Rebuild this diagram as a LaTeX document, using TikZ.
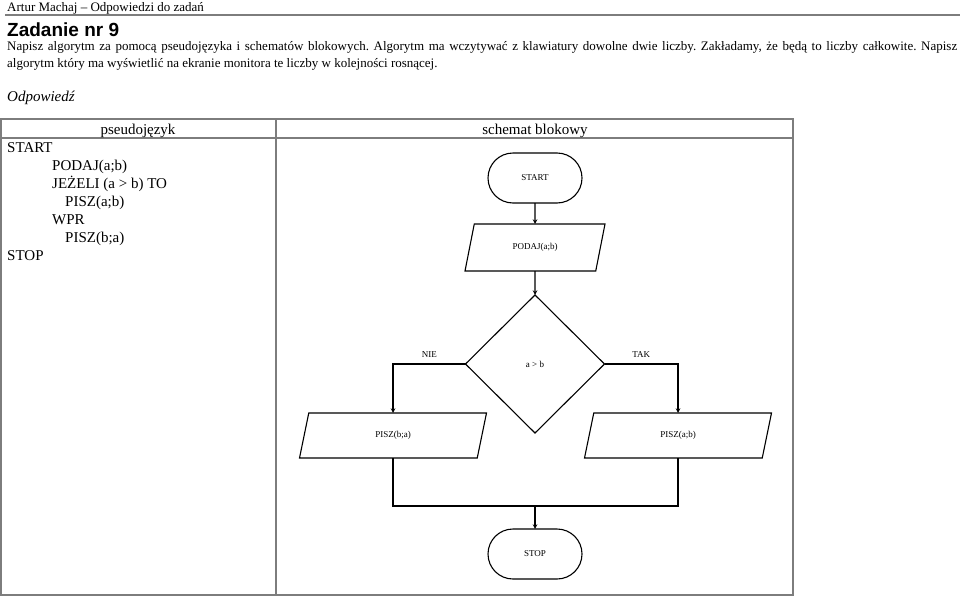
\documentclass[tikz,border=0pt]{standalone}
\usepackage{fontspec}
\setmainfont{Liberation Serif}
\newfontfamily\headSans{Liberation Sans}
\usepackage{tikz}
\usetikzlibrary{
    positioning,
    arrows.meta,
    shapes.geometric
}
\definecolor{tableGray}{RGB}{125,125,125}
\frenchspacing

\begin{document}
\begin{tikzpicture}[x=1pt, y=-1pt, >=stealth,
    txt/.style={anchor=base west, inner sep=0pt},
    terminal/.style={draw, rectangle, rounded corners=25pt, minimum width=94pt,
        minimum height=50pt, line width=1.1pt, outer sep=0pt, font=\fontsize{9}{11}\selectfont},
    iobox/.style={draw, trapezium, trapezium left angle=58, trapezium right angle=122,
        trapezium stretches body, line width=1.1pt, outer sep=0pt, font=\fontsize{9}{11}\selectfont},
    decision/.style={draw, diamond, aspect=1, minimum width=139pt, minimum height=138pt,
        inner sep=0pt, line width=1.1pt, outer sep=0pt, font=\fontsize{9}{11}\selectfont},
    flow/.style={line width=1.1pt},
    branch/.style={inner sep=1pt, font=\fontsize{9}{11}\selectfont}]
    \useasboundingbox (0,0) rectangle (960,597);

    % naglowek strony
    \node[txt, font=\fontsize{13}{15}\selectfont] (author) at (7,11) {Artur Machaj – Odpowiedzi do zadań};
    \draw[tableGray, line width=1.4pt] (5,15) -- (960,15);
    \node[txt, font=\headSans\bfseries\fontsize{19}{22}\selectfont] (title) at (7,36) {Zadanie nr 9};
    \node[txt, font=\fontsize{13}{16}\selectfont] (task1) at (7,50)
        {\makebox[950pt][s]{Napisz algorytm za pomocą pseudojęzyka i schematów blokowych. Algorytm ma wczytywać z klawiatury dowolne dwie liczby. Zakładamy, że będą to liczby całkowite. Napisz}};
    \node[txt, font=\fontsize{13}{16}\selectfont] (task2) at (7,67)
        {algorytm który ma wyświetlić na ekranie monitora te liczby w kolejności rosnącej.};
    \node[txt, font=\itshape\fontsize{15}{18}\selectfont] (answer) at (7,101) {Odpowiedź};

    % tabela
    \draw[tableGray, line width=1.2pt] (1,119) rectangle (793,595);
    \draw[tableGray, line width=1.2pt] (1,138) -- (793,138);
    \draw[tableGray, line width=1.2pt] (276,119) -- (276,595);
    \node[anchor=base, inner sep=0pt, font=\fontsize{15}{18}\selectfont] (colA) at (138,134) {pseudojęzyk};
    \node[anchor=base, inner sep=0pt, font=\fontsize{15}{18}\selectfont] (colB) at (535,134) {schemat blokowy};

    % pseudojezyk
    \foreach \x/\y/\line [count=\i] in {7/152/{START}, 52/170/{PODAJ(a;b)}, 52/188/{JEŻELI (a > b) TO},
        65/206/{PISZ(a;b)}, 52/224/{WPR}, 65/242/{PISZ(b;a)}, 7/260/{STOP}} {
        \node[txt, font=\fontsize{15}{18}\selectfont] (code\i) at (\x,\y) {\line};
    }

    % schemat blokowy
    \node[terminal] (start) at (535,178) {START};
    \node[iobox, minimum width=140pt, minimum height=47pt] (podaj) at (535,247.5) {PODAJ(a;b)};
    \node[decision] (cond) at (535,364) {a > b};
    \node[iobox, minimum width=187pt, minimum height=45pt] (piszba) at (393,435.5) {PISZ(b;a)};
    \node[iobox, minimum width=187pt, minimum height=45pt] (piszab) at (678,435.5) {PISZ(a;b)};
    \node[terminal] (stop) at (535,554) {STOP};
    \coordinate (join) at (535,506);

    \draw[flow, ->] (start) -- (podaj);
    \draw[flow, ->] (podaj) -- (cond);
    \draw[flow, ->] (cond.west) -| node[branch, pos=0.25, above=5pt] {NIE} (piszba.north);
    \draw[flow, ->] (cond.east) -| node[branch, pos=0.25, above=5pt] {TAK} (piszab.north);
    \draw[flow] (piszba.south) |- (join) -| (piszab.south);
    \draw[flow, ->] (join) -- (stop);
\end{tikzpicture}
\end{document}
